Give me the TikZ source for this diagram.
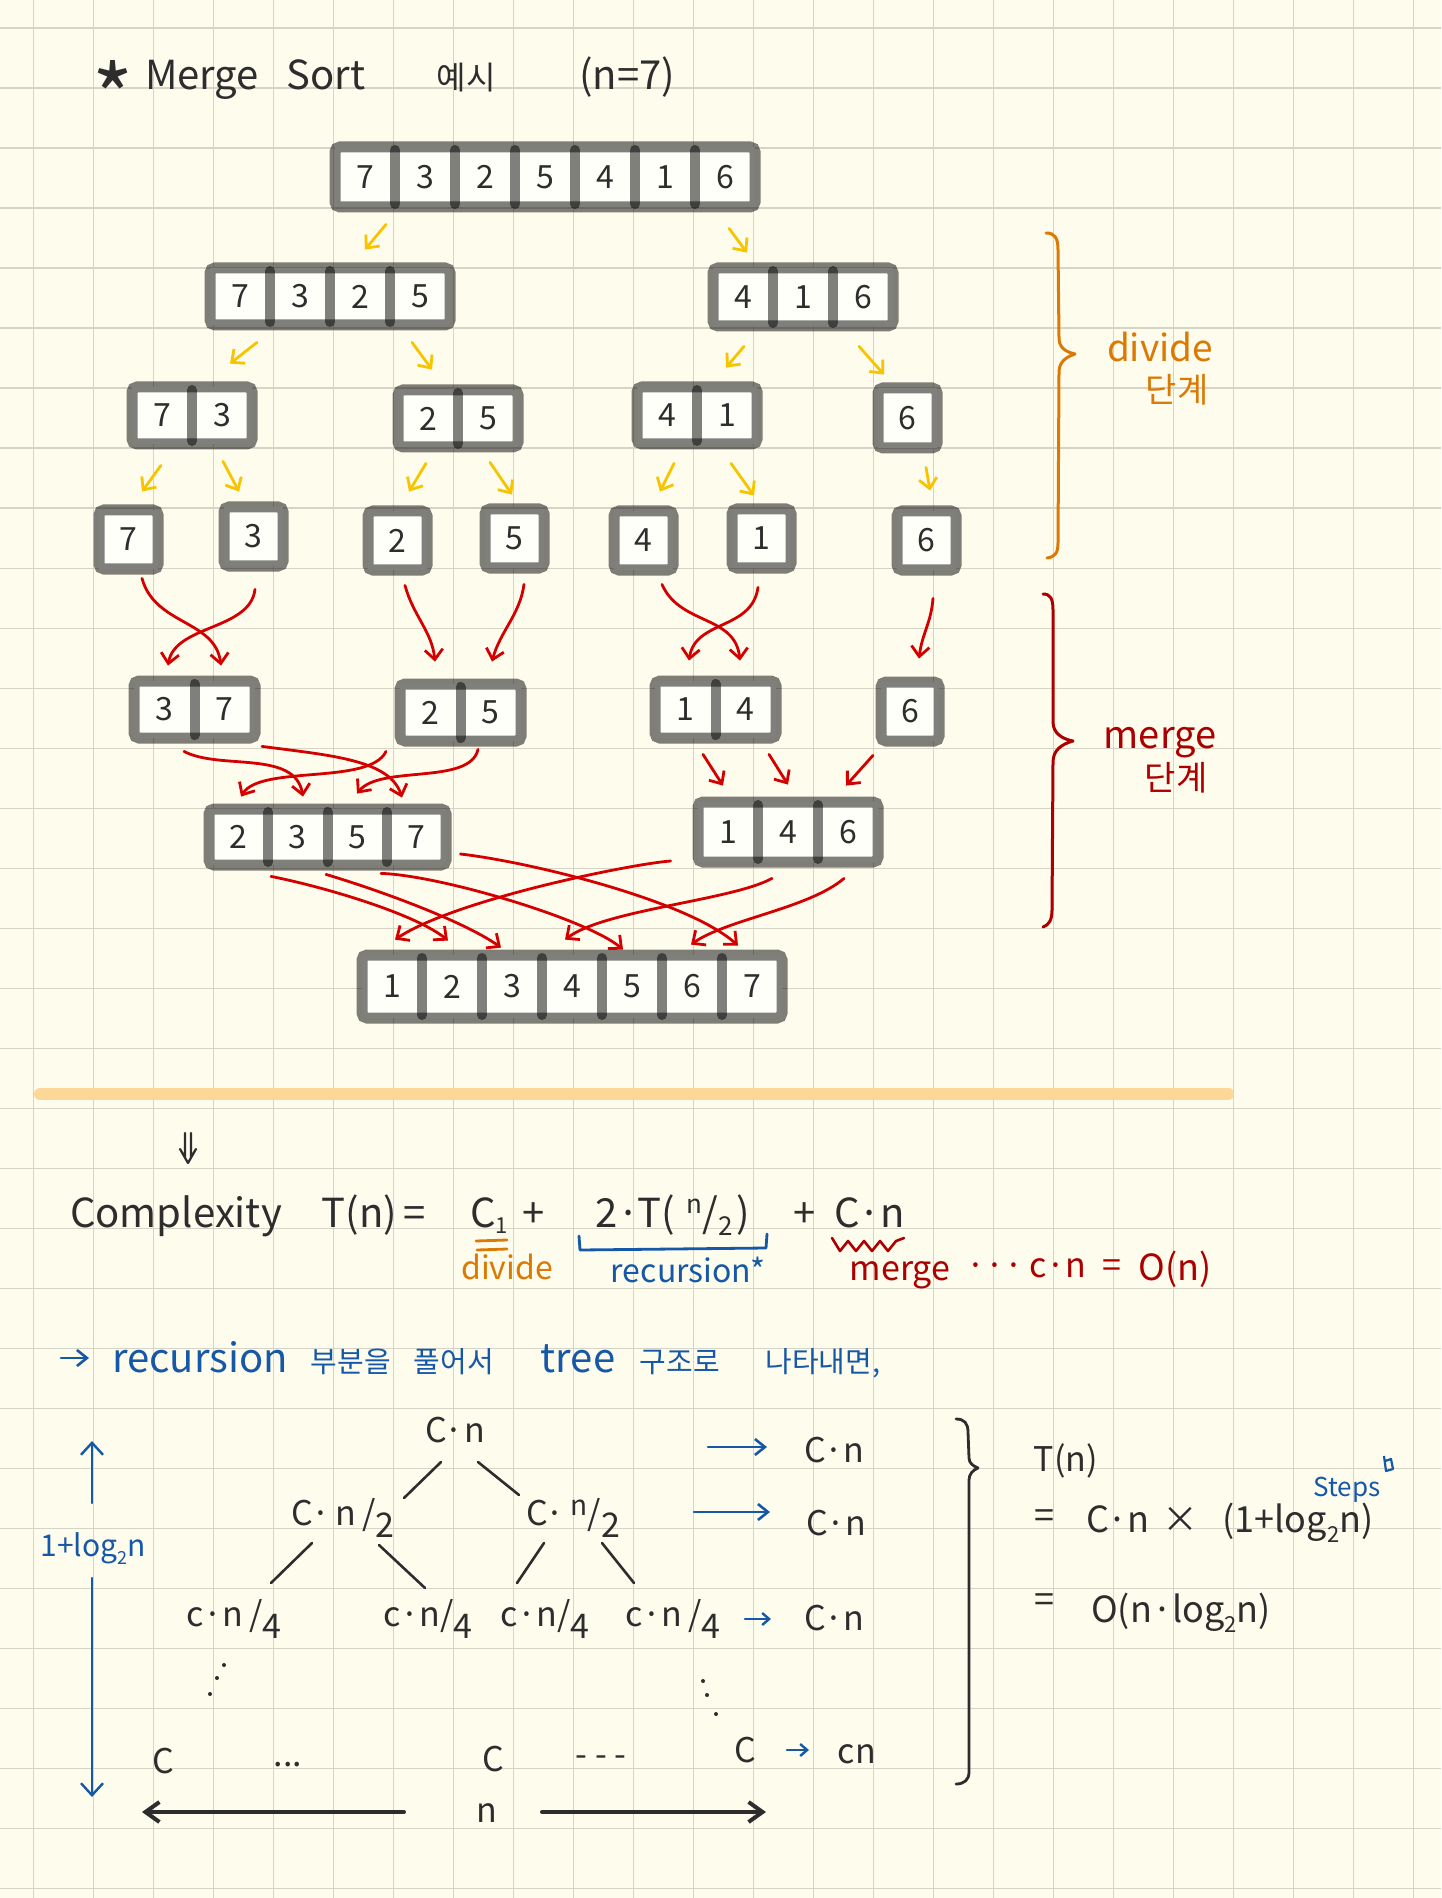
\documentclass[tikz,border=0pt]{standalone}
\usepackage{fontspec}
\setmainfont{Noto Sans CJK KR}
\usetikzlibrary{arrows.meta,calc}
\definecolor{paper}{RGB}{254,252,237}
\definecolor{gridc}{RGB}{214,212,199}
\definecolor{inkc}{RGB}{45,45,45}
\definecolor{yel}{RGB}{247,196,0}
\definecolor{redc}{RGB}{212,0,0}
\definecolor{dred}{RGB}{172,0,0}
\definecolor{orc}{RGB}{218,122,5}
\definecolor{bluec}{RGB}{22,88,168}
\definecolor{barc}{RGB}{253,215,152}
\definecolor{cellw}{RGB}{255,255,250}
\newcommand\fA{\fontsize{20}{24}\selectfont}
\newcommand\fB{\fontsize{17}{20}\selectfont}
\newcommand\fC{\fontsize{16}{19}\selectfont}
\newcommand\fS[1]{\fontsize{#1}{#1}\selectfont}
% name, x0, y0, n, w, h, digits
\newcommand\arrbox[7]{%
  \fill[cellw] (#2,#3) rectangle ({#2+#4*#5},{#3+#6});
  \draw[boxline] (#2,#3) rectangle ({#2+#4*#5},{#3+#6});
  \ifnum#4>1
    \foreach \k in {2,...,#4} \draw[divline] ({#2+(\k-1)*#5},{#3+3}) -- ({#2+(\k-1)*#5},{#3+#6-3});
  \fi
  \foreach \d [count=\i] in {#7}
    \node[cell, minimum width={#5*0.5pt}, minimum height={#6*0.5pt}] (#1-\i) at ({#2+(\i-0.5)*#5},{#3+#6/2}) {\d};
}
\tikzset{
  boxline/.style={draw=black, draw opacity=0.5, line width=5.5pt, rounded corners=2.5pt},
  divline/.style={draw=black, draw opacity=0.5, line width=5pt, line cap=round},
  cell/.style={inner sep=0pt, text=inkc, font=\fC},
  yarr/.style={draw=yel, line width=1.4pt, line cap=round, line join=round, -{Straight Barb[length=5pt,width=9pt]}},
  rarr/.style={draw=redc, line width=1.4pt, line cap=round, line join=round, -{Straight Barb[length=5pt,width=9pt]}},
  tline/.style={draw=inkc, line width=1.3pt, line cap=round},
  barr/.style={draw=bluec, line width=1.3pt, line cap=round, -{Straight Barb[length=5pt,width=8pt]}},
  sbarr/.style={draw=bluec, line width=1.2pt, line cap=round, -{Straight Barb[length=3.5pt,width=6pt]}},
  lbl/.style={inner sep=0pt, anchor=base, text=inkc},
  bigarr/.style={draw=inkc, line width=2pt, line cap=round, -{Straight Barb[length=7pt,width=10pt]}},
  vbarr/.style={draw=bluec, line width=1.2pt, line cap=round, -{Straight Barb[length=6pt,width=11pt]}},
  brace/.style={line width=1.5pt, line cap=round, line join=round}
}
\begin{document}
\begin{tikzpicture}[x=0.5pt,y=-0.5pt]
\useasboundingbox (0,0) rectangle (1441,1898);
\fill[paper] (0,0) rectangle (1441,1898);
\foreach \i in {0,...,23} \draw[gridc, line width=0.8pt] ({33.3+60*\i},0) -- ({33.3+60*\i},1898);
\foreach \j in {0,...,31} \draw[gridc, line width=0.8pt] (0,{28.3+60*\j}) -- (1441,{28.3+60*\j});
\draw[barc, line width=6pt, line cap=round] (40,1094) -- (1228,1094);

% ---------- title ----------
\node[inner sep=0pt, anchor=north, text=inkc, font=\fS{44}] (tstar) at (113,60) {*};
\node[lbl, font=\fA] (tmerge) at (202,90) {Merge};
\node[lbl, font=\fA] (tsort) at (326,90) {Sort};
\node[lbl, font=\fS{16}] (tex) at (466,90) {예시};
\node[lbl, font=\fA] (tn) at (627,90) {(n=7)};

% ---------- arrays ----------
\arrbox{L1}{335}{147}{7}{60}{60}{7,3,2,5,4,1,6}
\arrbox{L2a}{210}{268}{4}{60}{57}{7,3,2,5}
\arrbox{L2b}{713}{268}{3}{60}{58}{4,1,6}
\arrbox{L3a}{132}{387}{2}{60}{57}{7,3}
\arrbox{L3b}{398}{390}{2}{60}{57}{2,5}
\arrbox{L3c}{637}{387}{2}{60}{57}{4,1}
\arrbox{L3d}{878}{388}{1}{59}{60}{6}
\arrbox{d7}{99}{510}{1}{59}{59}{7}
\arrbox{d3}{224}{507}{1}{59}{59}{3}
\arrbox{d2}{368}{511}{1}{59}{59}{2}
\arrbox{d5}{485}{509}{1}{59}{59}{5}
\arrbox{d4}{614}{511}{1}{59}{59}{4}
\arrbox{d1}{732}{509}{1}{59}{59}{1}
\arrbox{d6}{897}{511}{1}{59}{59}{6}
\arrbox{L5a}{134}{681}{2}{60.5}{57}{3,7}
\arrbox{L5b}{400}{684}{2}{60.5}{57}{2,5}
\arrbox{L5c}{655}{681}{2}{60.5}{57}{1,4}
\arrbox{m6}{881}{682}{1}{58}{59}{6}
\arrbox{L6a}{209}{809}{4}{59.25}{56}{2,3,5,7}
\arrbox{L6b}{698}{802}{3}{60}{60}{1,4,6}
\arrbox{L7}{362}{955}{7}{60}{63}{1,2,3,4,5,6,7}

% ---------- divide arrows ----------
\draw[yarr] ($(L1-1.south)+(21,17)$) -- ($(L2a-3.north)+(5,-18)$);
\draw[yarr] ($(L1-7.south)+(4,21)$) -- ($(L2b-1.north)+(4,-15)$);
\draw[yarr] ($(L2a-1.south)+(17,17)$) -- ($(L3a-2.north)+(8,-23)$);
\draw[yarr] ($(L2a-4.south)+(-8,17)$) -- ($(L3b-1.north)+(4,-20)$);
\draw[yarr] ($(L2b-1.south)+(1,20)$) -- ($(L3c-2.north)+(-1,-19)$);
\draw[yarr] ($(L2b-3.south)+(-4,20)$) -- ($(L3d-1.north)+(-23.5,-13)$);
\draw[yarr] ($(L3a-1.south)+(-1,21)$) -- ($(d7-1.north)+(13.5,-18)$);
\draw[yarr] ($(L3a-2.south)+(1,17)$) -- ($(d3-1.north)+(-14.5,-15)$);
\draw[yarr] ($(L3b-1.south)+(-2,16)$) -- ($(d2-1.north)+(11.5,-19)$);
\draw[yarr] ($(L3b-2.south)+(2,15)$) -- ($(d5-1.north)+(-2.5,-14)$);
\draw[yarr] ($(L3c-1.south)+(7,19)$) -- ($(d4-1.north)+(16.5,-19)$);
\draw[yarr] ($(L3c-2.south)+(4,19)$) -- ($(d1-1.north)+(-7.5,-13)$);
\draw[yarr] ($(L3d-1.south)+(18.5,19)$) -- ($(d6-1.north)+(3.5,-20)$);

% ---------- merge arrows ----------
\draw[rarr] ($(d7-1.south)+(13.5,9)$) .. controls +(13,47) and +(-6,-46) .. ($(L5a-2.north)+(-3.75,-15)$);
\draw[rarr] ($(d3-1.south)+(1.5,23)$) .. controls +(-5,41) and +(7,-41) .. ($(L5a-1.north)+(3.75,-15)$);
\draw[rarr] ($(d2-1.south)+(7.5,15)$) .. controls +(8,30) and +(-3,-30) .. ($(L5b-1.north)+(4.75,-22)$);
\draw[rarr] ($(d5-1.south)+(9.5,16)$) .. controls +(-4,30) and +(8,-30) .. ($(L5b-2.north)+(1.25,-22)$);
\draw[rarr] ($(d4-1.south)+(18.5,14)$) .. controls +(18,41) and +(-5,-46) .. ($(L5c-2.north)+(-5.75,-20)$);
\draw[rarr] ($(d1-1.south)+(-3.5,19)$) .. controls +(-6,43) and +(6,-41) .. ($(L5c-1.north)+(3.75,-20)$);
\draw[rarr] ($(d6-1.south)+(6.5,28)$) .. controls +(-2,25) and +(3,-25) .. ($(m6-1.north)+(9,-23)$);

\draw[rarr] ($(L5a-1.south)+(19.75,13)$) .. controls +(36,19) and +(-8,-47) .. ($(L6a-2.north)+(5.1,-12)$);
\draw[rarr] ($(L5a-2.south)+(37.25,8)$) .. controls +(68,9) and +(-12,-38) .. ($(L6a-4.north)+(-14.4,-11)$);
\draw[rarr] ($(L5b-1.south)+(-44.25,10)$) .. controls +(-16,34) and +(19,-32) .. ($(L6a-1.north)+(2.4,-12)$);
\draw[rarr] ($(L5b-2.south)+(-12.75,8)$) .. controls +(-8,36) and +(23,-29) .. ($(L6a-3.north)+(-0.1,-15)$);
\draw[rarr] ($(L5c-1.south)+(17.75,16)$) -- ($(L6b-1.north)+(-5,-16)$);
\draw[rarr] ($(L5c-2.south)+(23.25,16)$) -- ($(L6b-2.north)+(0,-17)$);
\draw[rarr] ($(m6-1.south)+(-37,14)$) -- ($(L6b-3.north)+(-2,-16)$);

\draw[rarr] ($(L6a-1.south)+(32.4,11)$) .. controls +(60,12) and +(-30,-25) .. ($(L7-2.north)+(-4,-14)$);
\draw[rarr] ($(L6a-2.south)+(28.1,9)$) .. controls +(60,18) and +(-35,-25) .. ($(L7-3.north)+(-11,-7)$);
\draw[rarr] ($(L6a-3.south)+(23.9,8)$) .. controls +(60,2) and +(-35,-30) .. ($(L7-5.north)+(-9,-5)$);
\draw[rarr] ($(L6a-4.east)+(14,17)$) .. controls +(70,8) and +(-50,-45) .. ($(L7-7.north)+(-14,-9)$);
\draw[rarr] ($(L6b-1.west)+(-27,29)$) .. controls +(-40,3) and +(60,-40) .. ($(L7-1.north)+(3,-15)$);
\draw[rarr] ($(L6b-2.south)+(-16,16)$) .. controls +(-40,22) and +(40,-30) .. ($(L7-4.north)+(-7,-15)$);
\draw[rarr] ($(L6b-3.south)+(-4,16)$) .. controls +(-35,30) and +(35,-25) .. ($(L7-6.north)+(-1,-10)$);

% ---------- braces ----------
\draw[orc, brace] (1046,233) .. controls (1055,233) and (1058,238) .. (1058,250) -- (1059,338) .. controls (1059,348) and (1066,352) .. (1075,354) .. controls (1066,357) and (1059,362) .. (1059,372) -- (1058,543) .. controls (1058,553) and (1055,557) .. (1047,558);
\node[lbl, text=orc, font=\fS{18.5}] (dvl) at (1160,362) {divide};
\node[lbl, text=orc, font=\fS{17}] (dvk) at (1177,403) {단계};
\draw[dred, brace] (1043,594) .. controls (1050,594) and (1053,598) .. (1053,610) -- (1053,722) .. controls (1053,733) and (1062,739) .. (1073,741) .. controls (1062,744) and (1053,750) .. (1053,762) -- (1052,910) .. controls (1052,920) and (1049,925) .. (1043,927);
\node[lbl, text=dred, font=\fS{19}] (mgl) at (1160,748) {merge};
\node[lbl, text=dred, font=\fS{17}] (mgk) at (1176,790) {단계};

% ---------- complexity ----------
\draw[inkc, line width=1.1pt, line cap=round, line join=round] (185,1133) -- (185,1158) (191,1133) -- (191,1158) (180,1149) -- (188,1163) -- (196,1149);
\node[lbl, font=\fA] (cx) at (176,1227) {Complexity};
\node[lbl, font=\fA] (ctn) at (374,1227) {T(n)\,=};
\node[lbl, font=\fA] (cc1) at (489,1227) {C\raisebox{-3pt}{\fS{11}1}};
\node[lbl, font=\fA] (cp1) at (534,1227) {+};
\node[lbl, font=\fA] (crec) at (673,1227) {2·T(\hspace{6pt}\raisebox{7pt}{\fS{13}n}/\raisebox{-4pt}{\fS{13}2}\hspace{2pt})};
\node[lbl, font=\fA] (cp2) at (805,1227) {+};
\node[lbl, font=\fA] (ccn) at (870,1227) {C·n};
\draw[orc, line width=1.4pt, line cap=round] (476,1241) -- (507,1240) (477,1250) -- (507,1249);
\node[lbl, text=orc, font=\fC] (cdiv) at (507,1279) {divide};
\draw[bluec, line width=1.4pt, line cap=round, line join=round] (579,1236) -- (580,1250) -- (766,1248) -- (767,1234);
\node[lbl, text=bluec, font=\fC] (crecl) at (688,1282) {recursion*};
\draw[dred, line width=1.3pt, line cap=round, line join=round] (832,1238) -- (840,1251) -- (848,1241) -- (856,1251) -- (864,1241) -- (872,1251) -- (880,1241) -- (888,1251) -- (896,1241) -- (904,1238);
\node[lbl, text=dred, font=\fS{17}] (cmg) at (900,1280) {merge};
\node[lbl, text=dred, font=\fS{17}] (cdots) at (995,1277) {···};
\node[lbl, text=dred, font=\fS{17}] (ccn2) at (1058,1277) {c·n};
\node[lbl, text=dred, font=\fS{17}] (ceq) at (1112,1277) {=};
\node[lbl, text=dred, font=\fS{18}] (con) at (1175,1280) {O(n)};

% ---------- blue sentence ----------
\node[lbl, text=bluec, font=\fA] (bl1) at (200,1372) {recursion};
\draw[barr] ($(bl1.base)+(-139,-14)$) -- ($(bl1.base)+(-111,-14)$);
\node[lbl, text=bluec, font=\fS{14.5}] (bl2) at (351,1372) {부분을};
\node[lbl, text=bluec, font=\fS{14.5}] (bl3) at (454,1372) {풀어서};
\node[lbl, text=bluec, font=\fA] (bl4) at (578,1372) {tree};
\node[lbl, text=bluec, font=\fS{14.5}] (bl5) at (680,1372) {구조로};
\node[lbl, text=bluec, font=\fS{14.5}] (bl6) at (823,1372) {나타내면,};

% ---------- recursion tree ----------
\node[lbl, font=\fB] (t0) at (455,1442) {C·n};
\node[lbl, font=\fB] (t1) at (343,1525) {C·\,n\,/\raisebox{-6pt}{2}};
\node[lbl, font=\fB] (t2) at (573,1525) {C·\,\raisebox{5pt}{\fS{14}n}/\raisebox{-6pt}{2}};
\node[lbl, font=\fB] (t3) at (234,1626) {c·n\,/\raisebox{-6pt}{4}};
\node[lbl, font=\fB] (t4) at (428,1626) {c·n/\raisebox{-6pt}{4}};
\node[lbl, font=\fB] (t5) at (545,1626) {c·n/\raisebox{-6pt}{4}};
\node[lbl, font=\fB] (t6) at (673,1626) {c·n\,/\raisebox{-6pt}{4}};
\draw[tline] ($(t0.base)+(-14,20)$) -- ($(t1.base)+(61,-27)$);
\draw[tline] ($(t0.base)+(23,20)$) -- ($(t2.base)+(-54,-30)$);
\draw[tline] ($(t1.base)+(-31,18)$) -- ($(t3.base)+(37,-43)$);
\draw[tline] ($(t1.base)+(36,20)$) -- ($(t4.base)+(-3,-38)$);
\draw[tline] ($(t2.base)+(-29,18)$) -- ($(t5.base)+(-28,-43)$);
\draw[tline] ($(t2.base)+(29,18)$) -- ($(t6.base)+(-39,-43)$);
\fill[inkc] (224,1665) circle (2) (217,1678) circle (2) (210,1694) circle (2);
\fill[inkc] (703,1681) circle (2) (707,1695) circle (2) (716,1714) circle (2);
\node[lbl, font=\fB] (b1) at (163,1773) {C};
\node[lbl, font=\fB] (bd1) at (288,1766) {...};
\node[lbl, font=\fB] (b2) at (493,1771) {C};
\node[lbl, font=\fB] (bd2) at (601,1766) {- - -};
\node[lbl, font=\fB] (b3) at (745,1762) {C};

\node[lbl, font=\fB] (r1) at (834,1462) {C·n};
\node[lbl, font=\fB] (r2) at (836,1535) {C·n};
\node[lbl, font=\fB] (r3) at (834,1630) {C·n};
\node[lbl, font=\fB] (r4) at (857,1763) {cn};
\draw[barr] ($(r1.base)+(-126,-15)$) -- ($(r1.base)+(-67,-15)$);
\draw[barr] ($(r2.base)+(-142,-23)$) -- ($(r2.base)+(-66,-23)$);
\draw[sbarr] ($(r3.base)+(-89,-11)$) -- ($(r3.base)+(-63,-11)$);
\draw[sbarr] ($(r4.base)+(-70,-13)$) -- ($(r4.base)+(-48,-13)$);

\node[lbl, font=\fB] (nn) at (487,1822) {n};
\draw[bigarr] ($(nn.base)+(-83,-10)$) -- ($(nn.base)+(-345,-10)$);
\draw[bigarr] ($(nn.base)+(55,-10)$) -- ($(nn.base)+(279,-10)$);

\node[lbl, text=bluec, font=\fS{15}] (lg) at (93,1556) {1+log\raisebox{-4pt}{\fS{9}2}n};
\draw[vbarr] ($(lg.base)+(-1,-53)$) -- ($(lg.base)+(-1,-115)$);
\draw[vbarr] ($(lg.base)+(-1,22)$) -- ($(lg.base)+(-1,241)$);

% ---------- right side ----------
\draw[inkc, brace, line width=1.4pt] (956,1419) .. controls (964,1419) and (968,1423) .. (968,1432) -- (969,1458) .. controls (969,1463) and (973,1466) .. (978,1468) .. controls (973,1470) and (969,1474) .. (969,1480) -- (969,1772) .. controls (969,1780) and (964,1784) .. (956,1784);
\node[lbl, font=\fS{17}] (rt) at (1066,1471) {T(n)};
\node[lbl, font=\fS{18}] (req1) at (1044,1528) {=};
\node[lbl, font=\fS{18}] (rcn) at (1118,1532) {C·n};
\node[lbl, font=\fS{18}] (rx) at (1180,1532) {×};
\node[lbl, font=\fS{18}] (rlog) at (1298,1532) {(1+log\raisebox{-5pt}{\fS{11}2}n)};
\node[lbl, text=bluec, font=\fS{13}] (rst) at (1347,1496) {Steps};
\draw[bluec, line width=1.1pt, line join=round] (1384,1456) -- (1386,1471) -- (1393,1469) -- (1391,1459) -- (1385,1461);
\node[lbl, font=\fS{18}] (req2) at (1044,1612) {=};
\node[lbl, font=\fS{18}] (ro) at (1181,1622) {O(n·log\raisebox{-5pt}{\fS{11}2}n)};
\end{tikzpicture}
\end{document}
